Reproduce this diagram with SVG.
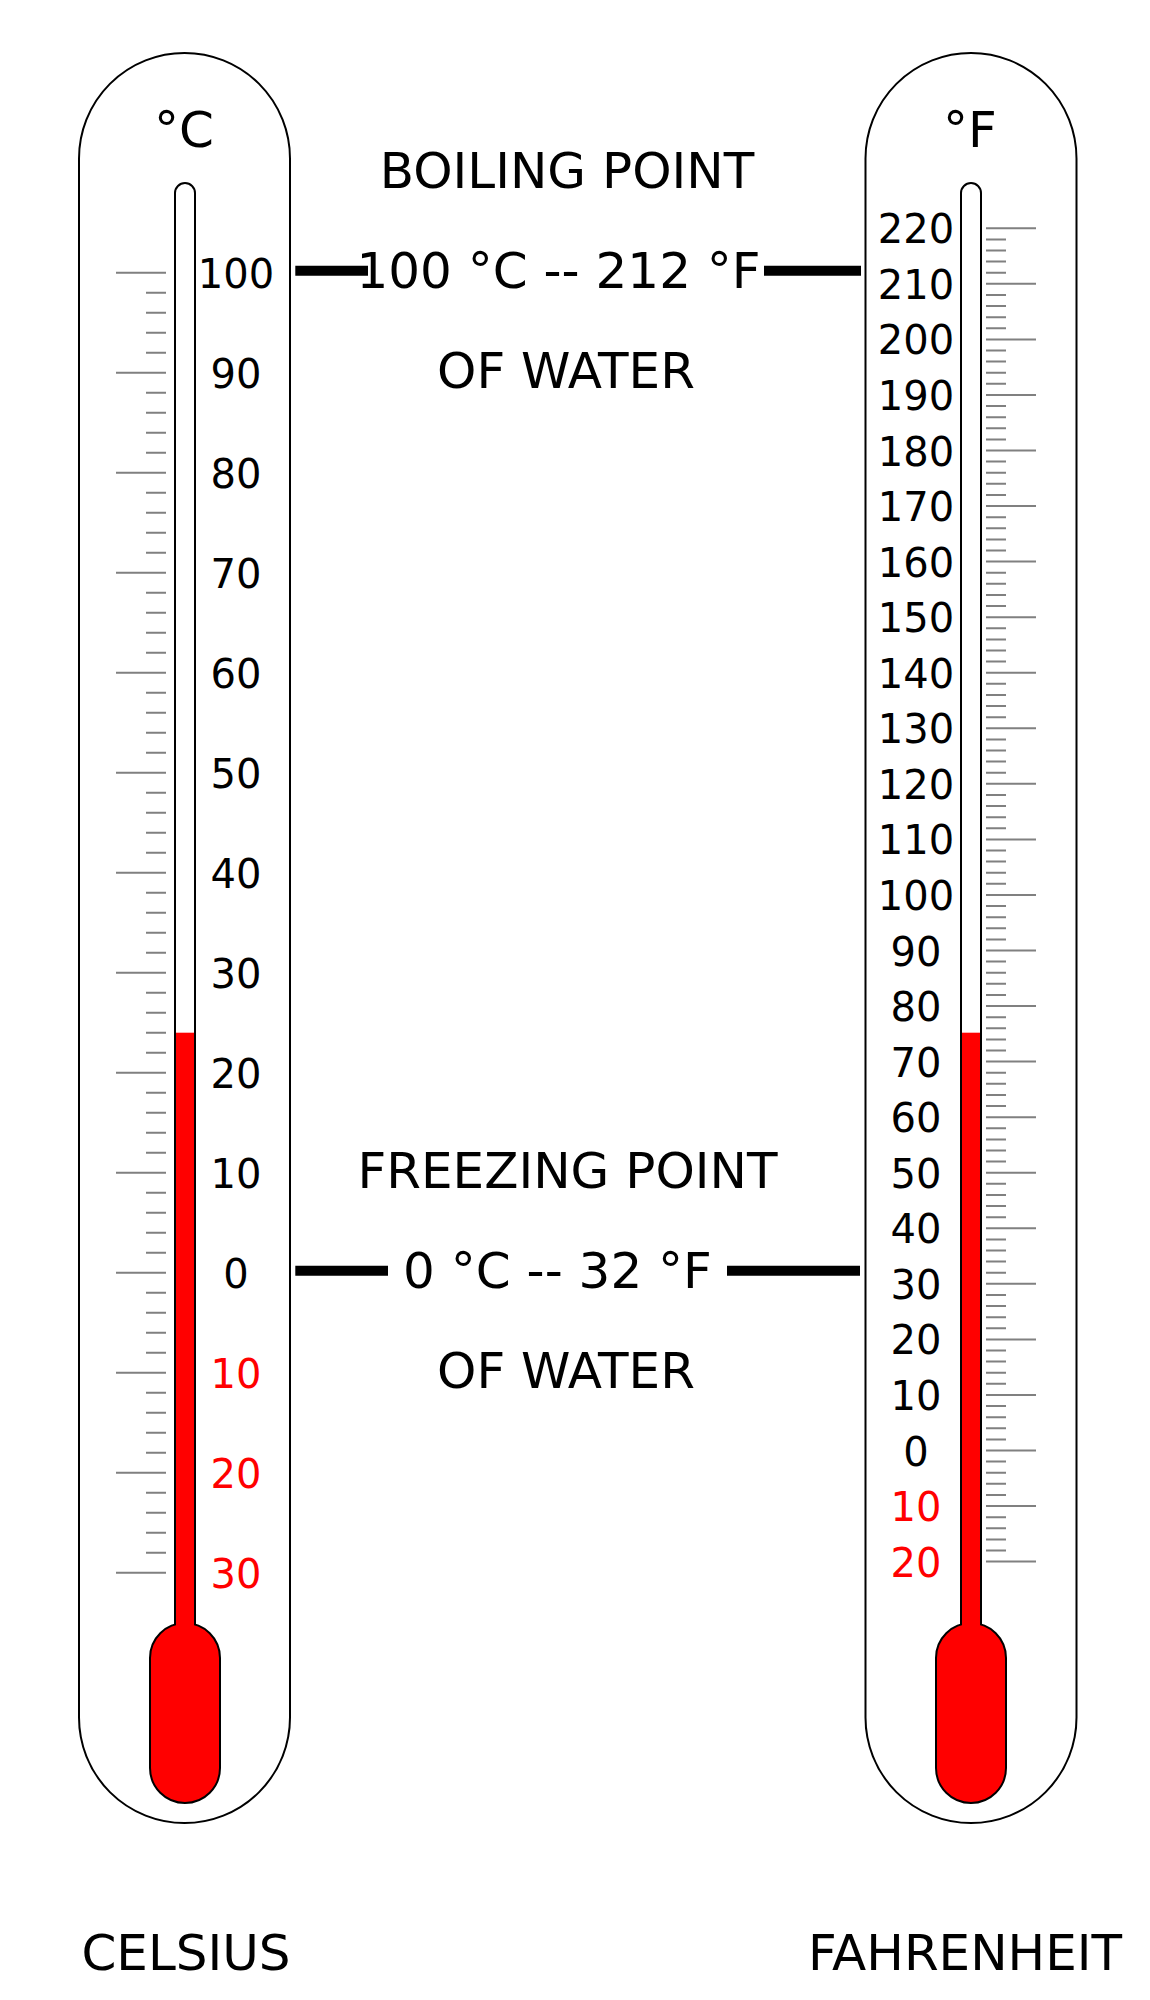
<svg xmlns="http://www.w3.org/2000/svg" width="1150" height="2000" viewBox="0 0 1150 2000">
<style>
text{font-family:"DejaVu Sans","Liberation Sans",sans-serif;fill:#000}
.big{font-size:50px;text-anchor:middle}
.num{font-size:40px;text-anchor:middle}
.neg{fill:#ff0000}
.case{fill:#fff;stroke:#000;stroke-width:2}
.tube{fill:#fff;stroke:#000;stroke-width:2}
.bulb{fill:#ff0000;stroke:#000;stroke-width:2}
.merc{fill:#ff0000}
.tick{fill:none;stroke:#808080;stroke-width:2}
.bar{stroke:#000;stroke-width:10}
</style>
<rect width="1150" height="2000" fill="#fff"/>

<g id="celsius">
<rect class="case" x="79" y="53" width="211" height="1770" rx="105.5"/>
<text class="big" x="184" y="147">°C</text>
<path class="tick" d="M116 272.7H166M116 372.7H166M116 472.7H166M116 572.7H166M116 672.7H166M116 772.7H166M116 872.7H166M116 972.7H166M116 1072.7H166M116 1172.7H166M116 1272.7H166M116 1372.7H166M116 1472.7H166M116 1572.7H166"/>
<path class="tick" d="M146 292.7H166M146 312.7H166M146 332.7H166M146 352.7H166M146 392.7H166M146 412.7H166M146 432.7H166M146 452.7H166M146 492.7H166M146 512.7H166M146 532.7H166M146 552.7H166M146 592.7H166M146 612.7H166M146 632.7H166M146 652.7H166M146 692.7H166M146 712.7H166M146 732.7H166M146 752.7H166M146 792.7H166M146 812.7H166M146 832.7H166M146 852.7H166M146 892.7H166M146 912.7H166M146 932.7H166M146 952.7H166M146 992.7H166M146 1012.7H166M146 1032.7H166M146 1052.7H166M146 1092.7H166M146 1112.7H166M146 1132.7H166M146 1152.7H166M146 1192.7H166M146 1212.7H166M146 1232.7H166M146 1252.7H166M146 1292.7H166M146 1312.7H166M146 1332.7H166M146 1352.7H166M146 1392.7H166M146 1412.7H166M146 1432.7H166M146 1452.7H166M146 1492.7H166M146 1512.7H166M146 1532.7H166M146 1552.7H166"/>
<rect class="tube" x="175" y="183" width="20" height="1460" rx="10"/>
<rect class="bulb" x="150" y="1623" width="70" height="180" rx="35"/>
<rect class="merc" x="176" y="1032.7" width="18" height="615"/>
<text class="num" x="236" y="287.7">100</text>
<text class="num" x="236" y="387.7">90</text>
<text class="num" x="236" y="487.7">80</text>
<text class="num" x="236" y="587.7">70</text>
<text class="num" x="236" y="687.7">60</text>
<text class="num" x="236" y="787.7">50</text>
<text class="num" x="236" y="887.7">40</text>
<text class="num" x="236" y="987.7">30</text>
<text class="num" x="236" y="1087.7">20</text>
<text class="num" x="236" y="1187.7">10</text>
<text class="num" x="236" y="1287.7">0</text>
<text class="num neg" x="236" y="1387.7">10</text>
<text class="num neg" x="236" y="1487.7">20</text>
<text class="num neg" x="236" y="1587.7">30</text>
<text class="big" x="186" y="1970">CELSIUS</text>
</g>

<g id="fahrenheit">
<rect class="case" x="865.5" y="53" width="211" height="1770" rx="105.5"/>
<text class="big" x="970" y="147">°F</text>
<path class="tick" d="M986 228.3H1036M986 283.8H1036M986 339.4H1036M986 394.9H1036M986 450.5H1036M986 506H1036M986 561.6H1036M986 617.2H1036M986 672.7H1036M986 728.3H1036M986 783.8H1036M986 839.4H1036M986 894.9H1036M986 950.5H1036M986 1006H1036M986 1061.6H1036M986 1117.2H1036M986 1172.7H1036M986 1228.3H1036M986 1283.8H1036M986 1339.4H1036M986 1394.9H1036M986 1450.5H1036M986 1506H1036M986 1561.6H1036"/>
<path class="tick" d="M986 239.4H1006M986 250.5H1006M986 261.6H1006M986 272.7H1006M986 294.9H1006M986 306H1006M986 317.2H1006M986 328.3H1006M986 350.5H1006M986 361.6H1006M986 372.7H1006M986 383.8H1006M986 406H1006M986 417.2H1006M986 428.3H1006M986 439.4H1006M986 461.6H1006M986 472.7H1006M986 483.8H1006M986 494.9H1006M986 517.2H1006M986 528.3H1006M986 539.4H1006M986 550.5H1006M986 572.7H1006M986 583.8H1006M986 594.9H1006M986 606H1006M986 628.3H1006M986 639.4H1006M986 650.5H1006M986 661.6H1006M986 683.8H1006M986 694.9H1006M986 706H1006M986 717.2H1006M986 739.4H1006M986 750.5H1006M986 761.6H1006M986 772.7H1006M986 794.9H1006M986 806H1006M986 817.2H1006M986 828.3H1006M986 850.5H1006M986 861.6H1006M986 872.7H1006M986 883.8H1006M986 906H1006M986 917.2H1006M986 928.3H1006M986 939.4H1006M986 961.6H1006M986 972.7H1006M986 983.8H1006M986 994.9H1006M986 1017.2H1006M986 1028.3H1006M986 1039.4H1006M986 1050.5H1006M986 1072.7H1006M986 1083.8H1006M986 1094.9H1006M986 1106H1006M986 1128.3H1006M986 1139.4H1006M986 1150.5H1006M986 1161.6H1006M986 1183.8H1006M986 1194.9H1006M986 1206H1006M986 1217.2H1006M986 1239.4H1006M986 1250.5H1006M986 1261.6H1006M986 1272.7H1006M986 1294.9H1006M986 1306H1006M986 1317.2H1006M986 1328.3H1006M986 1350.5H1006M986 1361.6H1006M986 1372.7H1006M986 1383.8H1006M986 1406H1006M986 1417.2H1006M986 1428.3H1006M986 1439.4H1006M986 1461.6H1006M986 1472.7H1006M986 1483.8H1006M986 1494.9H1006M986 1517.2H1006M986 1528.3H1006M986 1539.4H1006M986 1550.5H1006"/>
<rect class="tube" x="961" y="183" width="20" height="1460" rx="10"/>
<rect class="bulb" x="936" y="1623" width="70" height="180" rx="35"/>
<rect class="merc" x="962" y="1032.7" width="18" height="615"/>
<text class="num" x="916" y="243.3">220</text>
<text class="num" x="916" y="298.8">210</text>
<text class="num" x="916" y="354.4">200</text>
<text class="num" x="916" y="409.9">190</text>
<text class="num" x="916" y="465.5">180</text>
<text class="num" x="916" y="521">170</text>
<text class="num" x="916" y="576.6">160</text>
<text class="num" x="916" y="632.2">150</text>
<text class="num" x="916" y="687.7">140</text>
<text class="num" x="916" y="743.3">130</text>
<text class="num" x="916" y="798.8">120</text>
<text class="num" x="916" y="854.4">110</text>
<text class="num" x="916" y="909.9">100</text>
<text class="num" x="916" y="965.5">90</text>
<text class="num" x="916" y="1021">80</text>
<text class="num" x="916" y="1076.6">70</text>
<text class="num" x="916" y="1132.2">60</text>
<text class="num" x="916" y="1187.7">50</text>
<text class="num" x="916" y="1243.3">40</text>
<text class="num" x="916" y="1298.8">30</text>
<text class="num" x="916" y="1354.4">20</text>
<text class="num" x="916" y="1409.9">10</text>
<text class="num" x="916" y="1465.5">0</text>
<text class="num neg" x="916" y="1521">10</text>
<text class="num neg" x="916" y="1576.6">20</text>
<text class="big" x="965" y="1970">FAHRENHEIT</text>
</g>

<g id="boiling">
<text class="big" x="567" y="188.3">BOILING POINT</text>
<text class="big" x="558.5" y="287.7">100 °C -- 212 °F</text>
<text class="big" x="566" y="388.3">OF WATER</text>
</g>

<g id="freezing">
<text class="big" x="567.5" y="1188.3">FREEZING POINT</text>
<text class="big" x="557.5" y="1287.7">0 °C -- 32 °F</text>
<text class="big" x="566" y="1388.3">OF WATER</text>
</g>

<g id="connectors">
<path class="bar" d="M295.3 270.7H368M764 270.7H861M295.3 1270.7H388M727 1270.7H860"/>
</g>
</svg>
